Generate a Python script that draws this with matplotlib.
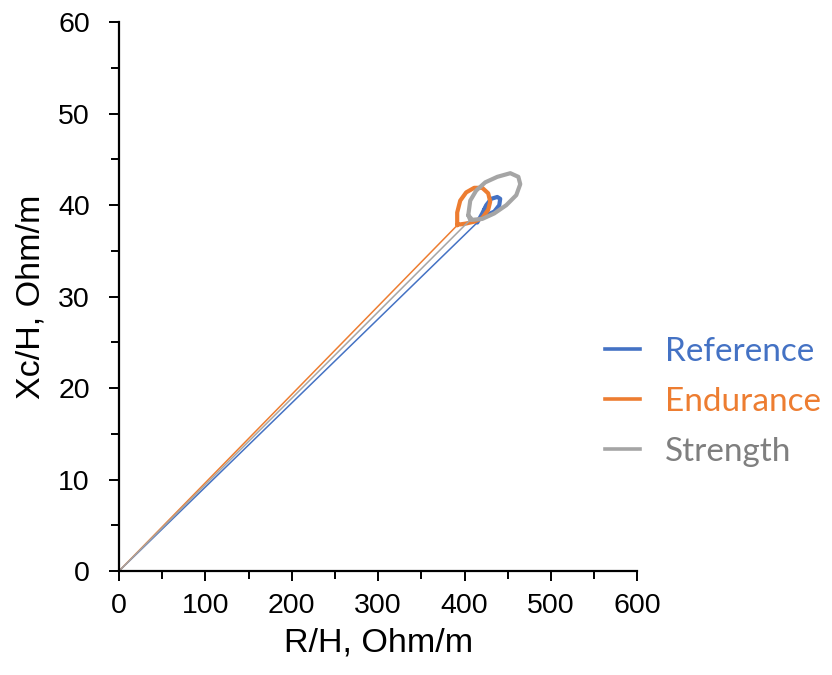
import matplotlib.pyplot as plt
from matplotlib.ticker import MultipleLocator

plt.rcParams['font.family'] = ['Liberation Sans', 'DejaVu Sans']

# R/H and Xc/H traces (origin, then the loop)
ref_r = [0, 414.7, 420.5, 425.1, 430.9, 437.9, 441.3, 440.2, 434.4, 427.4, 422.8, 425.1]
ref_x = [0, 38.1, 39.1, 40.0, 40.7, 40.9, 40.7, 40.0, 39.3, 39.0, 39.5, 39.8]

end_r = [0, 391.5, 391.5, 395.0, 401.9, 411.2, 420.5, 427.4, 429.7, 427.4, 420.5, 411.2, 401.9, 395.0, 392.0]
end_x = [0, 37.8, 39.2, 40.5, 41.4, 41.9, 41.9, 41.3, 40.4, 39.5, 38.6, 38.2, 38.0, 37.9, 37.9]

str_r = [0, 406.6, 404.3, 406.6, 413.5, 424.0, 437.9, 453.0, 462.3, 464.5, 459.9, 448.3, 434.4, 420.5, 408.9, 404.3]
str_x = [0, 38.4, 38.9, 40.5, 41.6, 42.5, 43.1, 43.5, 43.1, 42.3, 41.1, 40.0, 39.1, 38.5, 38.4, 38.9]

series = [
    ("Reference", ref_r, ref_x, "#4472C4", "#4472C4"),
    ("Endurance", end_r, end_x, "#ED7D31", "#ED7D31"),
    ("Strength", str_r, str_x, "#A5A5A5", "#7F7F7F"),
]

fig = plt.figure(figsize=(8.32, 6.75), dpi=100)
ax = fig.add_axes([0.143, 0.154, 0.623, 0.813])

for name, r, x, c, tc in series:
    ax.plot(r, x, color=c, lw=1.1, label=name)
    ax.plot(r[1:], x[1:], color=c, lw=3.0, solid_joinstyle='round', solid_capstyle='round')

ax.set_xlim(0, 600)
ax.set_ylim(0, 60)
ax.xaxis.set_major_locator(MultipleLocator(100))
ax.xaxis.set_minor_locator(MultipleLocator(50))
ax.yaxis.set_major_locator(MultipleLocator(10))
ax.yaxis.set_minor_locator(MultipleLocator(5))
ax.tick_params(which='major', direction='out', length=7, width=1.4, labelsize=20.5)
ax.tick_params(which='minor', direction='out', length=5.5, width=1.4)
ax.tick_params(axis='x', which='major', pad=9)
ax.tick_params(axis='y', which='major', pad=14)
ax.spines['top'].set_visible(False)
ax.spines['right'].set_visible(False)
for s in ('left', 'bottom'):
    ax.spines[s].set_linewidth(1.6)

ax.set_xlabel("R/H, Ohm/m", fontsize=24.5, labelpad=6)
ax.set_ylabel("Xc/H, Ohm/m", fontsize=24.5, labelpad=8)

handles, labels = ax.get_legend_handles_labels()
leg = fig.legend(handles, labels, loc='upper left', bbox_to_anchor=(605 / 832, 1 - 337 / 675),
                 frameon=False, handlelength=1.05, handletextpad=0.75,
                 labelspacing=0.6, borderpad=0, borderaxespad=0,
                 labelcolor=[s[4] for s in series],
                 prop={'family': ['Lato', 'DejaVu Sans'], 'size': 24})
for h in leg.legend_handles:
    h.set_linewidth(2.6)

fig.savefig("out.png", dpi=100)
